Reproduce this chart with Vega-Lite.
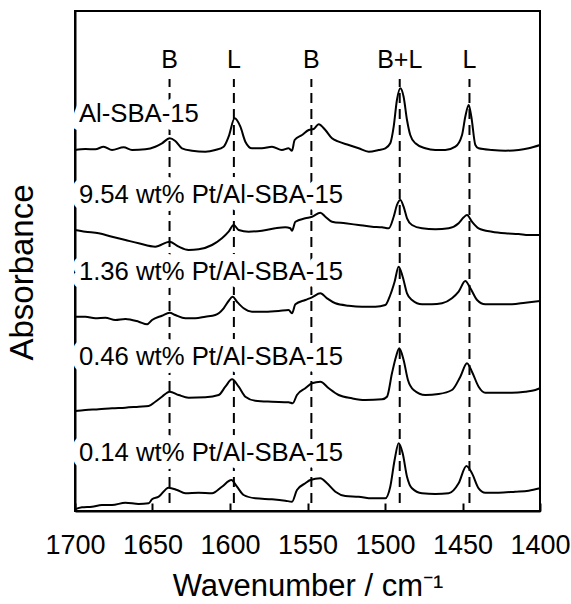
{
  "$schema": "https://vega.github.io/schema/vega-lite/v6.json",
  "width": 465,
  "height": 500,
  "autosize": "none",
  "padding": {"left": 75, "top": 11, "right": 31, "bottom": 93},
  "background": "white",
  "config": {
    "font": "Liberation Sans",
    "view": {"stroke": "black", "strokeWidth": 2},
    "axis": {"grid": false, "domainColor": "black", "domainWidth": 2, "titleFontWeight": "normal", "titleColor": "black", "labelColor": "black", "titleFont": "Liberation Sans", "labelFont": "Liberation Sans"}
  },
  "datasets": {
    "spec": [
      {"s":"a","w":1700,"a":361},{"s":"a","w":1693.3,"a":362},{"s":"a","w":1686.9,"a":361.7},{"s":"a","w":1681.5,"a":364.3},{"s":"a","w":1676.1,"a":361},{"s":"a","w":1668.6,"a":363.7},{"s":"a","w":1663.2,"a":361},{"s":"a","w":1654.6,"a":361.7},{"s":"a","w":1648.2,"a":364.3},{"s":"a","w":1643.9,"a":367.7},{"s":"a","w":1638.9,"a":372.7},{"s":"a","w":1635.3,"a":370},{"s":"a","w":1631.0,"a":362.7},{"s":"a","w":1624.5,"a":360.3},{"s":"a","w":1615.9,"a":359.3},{"s":"a","w":1609.5,"a":361},{"s":"a","w":1604.1,"a":364.3},{"s":"a","w":1600.9,"a":374.3},{"s":"a","w":1597.0,"a":392.7},{"s":"a","w":1593.3,"a":384.3},{"s":"a","w":1590.1,"a":369.3},{"s":"a","w":1585.8,"a":362.7},{"s":"a","w":1579.4,"a":362.7},{"s":"a","w":1572.9,"a":364.3},{"s":"a","w":1566.5,"a":361},{"s":"a","w":1562.2,"a":362.7},{"s":"a","w":1560.0,"a":360.3},{"s":"a","w":1558.3,"a":371},{"s":"a","w":1553.5,"a":376},{"s":"a","w":1549.2,"a":381},{"s":"a","w":1546.0,"a":382},{"s":"a","w":1542.8,"a":386.7},{"s":"a","w":1538.5,"a":381},{"s":"a","w":1534.2,"a":372.7},{"s":"a","w":1529.9,"a":369.3},{"s":"a","w":1523.4,"a":366},{"s":"a","w":1517.0,"a":362.7},{"s":"a","w":1510.5,"a":359.3},{"s":"a","w":1504.1,"a":361},{"s":"a","w":1499.8,"a":362.7},{"s":"a","w":1496.6,"a":367.7},{"s":"a","w":1494.4,"a":384.3},{"s":"a","w":1492.3,"a":411},{"s":"a","w":1490.1,"a":422.7},{"s":"a","w":1488.0,"a":414.3},{"s":"a","w":1485.8,"a":391},{"s":"a","w":1483.7,"a":376},{"s":"a","w":1480.4,"a":367.7},{"s":"a","w":1474.0,"a":362.7},{"s":"a","w":1467.5,"a":361},{"s":"a","w":1461.1,"a":361},{"s":"a","w":1454.6,"a":364.3},{"s":"a","w":1450.3,"a":376},{"s":"a","w":1448.2,"a":394.3},{"s":"a","w":1446.0,"a":406},{"s":"a","w":1444.3,"a":394.3},{"s":"a","w":1441.7,"a":366},{"s":"a","w":1439.6,"a":362.7},{"s":"a","w":1431.0,"a":361},{"s":"a","w":1422.4,"a":360.3},{"s":"a","w":1413.8,"a":361},{"s":"a","w":1407.3,"a":362.7},{"s":"a","w":1400,"a":366},

      {"s":"b","w":1700,"a":281},{"s":"b","w":1693.3,"a":279.3},{"s":"b","w":1684.7,"a":277.7},{"s":"b","w":1676.1,"a":274.3},{"s":"b","w":1667.5,"a":271},{"s":"b","w":1658.9,"a":267.7},{"s":"b","w":1648.2,"a":264.3},{"s":"b","w":1638.9,"a":269.3},{"s":"b","w":1633.1,"a":264.3},{"s":"b","w":1626.7,"a":261},{"s":"b","w":1620.2,"a":261.7},{"s":"b","w":1611.6,"a":266},{"s":"b","w":1605.2,"a":272.7},{"s":"b","w":1600.9,"a":279.3},{"s":"b","w":1597.6,"a":286},{"s":"b","w":1594.4,"a":281},{"s":"b","w":1588.0,"a":279.3},{"s":"b","w":1579.4,"a":280.3},{"s":"b","w":1570.8,"a":282.7},{"s":"b","w":1564.3,"a":283.7},{"s":"b","w":1561.1,"a":282.7},{"s":"b","w":1560.0,"a":280.3},{"s":"b","w":1557.8,"a":289.3},{"s":"b","w":1551.4,"a":292.7},{"s":"b","w":1547.1,"a":294.3},{"s":"b","w":1541.7,"a":298.3},{"s":"b","w":1538.5,"a":294.3},{"s":"b","w":1534.2,"a":289.3},{"s":"b","w":1525.6,"a":287.7},{"s":"b","w":1517.0,"a":286},{"s":"b","w":1508.4,"a":284.3},{"s":"b","w":1501.9,"a":283.7},{"s":"b","w":1497.6,"a":282.7},{"s":"b","w":1494.4,"a":294.3},{"s":"b","w":1492.3,"a":306},{"s":"b","w":1490.1,"a":311},{"s":"b","w":1488.0,"a":304.3},{"s":"b","w":1485.8,"a":292.7},{"s":"b","w":1482.6,"a":286},{"s":"b","w":1476.1,"a":282.7},{"s":"b","w":1467.5,"a":281.7},{"s":"b","w":1458.9,"a":282.7},{"s":"b","w":1452.5,"a":287.7},{"s":"b","w":1449.2,"a":293.7},{"s":"b","w":1447.1,"a":296},{"s":"b","w":1443.9,"a":289.3},{"s":"b","w":1439.6,"a":282.7},{"s":"b","w":1431.0,"a":279.3},{"s":"b","w":1422.4,"a":277.7},{"s":"b","w":1413.8,"a":277},{"s":"b","w":1407.3,"a":276},{"s":"b","w":1400,"a":276},

      {"s":"c","w":1700,"a":194.3},{"s":"c","w":1693.3,"a":194.3},{"s":"c","w":1686.9,"a":192.7},{"s":"c","w":1680.4,"a":193.3},{"s":"c","w":1674.0,"a":191},{"s":"c","w":1667.5,"a":192},{"s":"c","w":1658.9,"a":189.3},{"s":"c","w":1653.5,"a":186.7},{"s":"c","w":1650.3,"a":191},{"s":"c","w":1643.9,"a":195.3},{"s":"c","w":1638.9,"a":198.3},{"s":"c","w":1635.3,"a":196},{"s":"c","w":1628.8,"a":192.7},{"s":"c","w":1622.4,"a":192.7},{"s":"c","w":1615.9,"a":194.3},{"s":"c","w":1609.5,"a":196},{"s":"c","w":1604.1,"a":202.7},{"s":"c","w":1600.9,"a":210},{"s":"c","w":1598.3,"a":214.3},{"s":"c","w":1595.5,"a":209.3},{"s":"c","w":1591.2,"a":202.7},{"s":"c","w":1585.8,"a":199.3},{"s":"c","w":1577.2,"a":199.3},{"s":"c","w":1568.6,"a":200},{"s":"c","w":1562.2,"a":201},{"s":"c","w":1560.0,"a":197.7},{"s":"c","w":1557.8,"a":206.7},{"s":"c","w":1551.4,"a":211},{"s":"c","w":1547.1,"a":213.7},{"s":"c","w":1541.7,"a":217.7},{"s":"c","w":1537.4,"a":212.7},{"s":"c","w":1532.0,"a":207.7},{"s":"c","w":1523.4,"a":205.3},{"s":"c","w":1514.8,"a":204.3},{"s":"c","w":1506.2,"a":204.3},{"s":"c","w":1499.8,"a":206},{"s":"c","w":1496.6,"a":216},{"s":"c","w":1493.8,"a":229.3},{"s":"c","w":1491.2,"a":244.3},{"s":"c","w":1488.6,"a":234.3},{"s":"c","w":1485.8,"a":217.7},{"s":"c","w":1482.6,"a":211},{"s":"c","w":1476.1,"a":206.7},{"s":"c","w":1469.7,"a":206.7},{"s":"c","w":1463.2,"a":207.7},{"s":"c","w":1456.8,"a":212.7},{"s":"c","w":1452.5,"a":219.3},{"s":"c","w":1448.2,"a":230},{"s":"c","w":1444.9,"a":222.7},{"s":"c","w":1440.6,"a":211},{"s":"c","w":1435.3,"a":206.7},{"s":"c","w":1426.7,"a":206.7},{"s":"c","w":1418.1,"a":206.7},{"s":"c","w":1409.5,"a":208.3},{"s":"c","w":1400,"a":210},

      {"s":"d","w":1700,"a":100},{"s":"d","w":1693.3,"a":101},{"s":"d","w":1684.7,"a":101.7},{"s":"d","w":1676.1,"a":102.7},{"s":"d","w":1667.5,"a":103.3},{"s":"d","w":1658.9,"a":104.3},{"s":"d","w":1652.5,"a":105},{"s":"d","w":1648.2,"a":109.3},{"s":"d","w":1643.9,"a":114.3},{"s":"d","w":1638.9,"a":119.3},{"s":"d","w":1633.1,"a":116},{"s":"d","w":1626.7,"a":113.3},{"s":"d","w":1615.9,"a":113.7},{"s":"d","w":1607.3,"a":116},{"s":"d","w":1603.0,"a":124.3},{"s":"d","w":1598.7,"a":131.7},{"s":"d","w":1594.4,"a":124.3},{"s":"d","w":1590.1,"a":114.3},{"s":"d","w":1583.7,"a":110.3},{"s":"d","w":1572.9,"a":109.3},{"s":"d","w":1562.2,"a":108.7},{"s":"d","w":1559.6,"a":107.7},{"s":"d","w":1556.8,"a":116},{"s":"d","w":1551.4,"a":122.7},{"s":"d","w":1547.1,"a":127.7},{"s":"d","w":1541.7,"a":129.3},{"s":"d","w":1536.3,"a":122.7},{"s":"d","w":1529.9,"a":116},{"s":"d","w":1521.3,"a":112.7},{"s":"d","w":1512.7,"a":111},{"s":"d","w":1501.9,"a":111.7},{"s":"d","w":1498.7,"a":114.3},{"s":"d","w":1495.5,"a":137.7},{"s":"d","w":1492.9,"a":154.3},{"s":"d","w":1490.8,"a":162.7},{"s":"d","w":1488.0,"a":151},{"s":"d","w":1485.2,"a":131},{"s":"d","w":1481.5,"a":121},{"s":"d","w":1474.0,"a":116},{"s":"d","w":1465.4,"a":117},{"s":"d","w":1456.8,"a":121},{"s":"d","w":1451.4,"a":134.3},{"s":"d","w":1447.1,"a":147.7},{"s":"d","w":1443.9,"a":139.3},{"s":"d","w":1439.6,"a":124.3},{"s":"d","w":1435.3,"a":118.3},{"s":"d","w":1426.7,"a":118.3},{"s":"d","w":1418.1,"a":118.3},{"s":"d","w":1409.5,"a":119.3},{"s":"d","w":1403.0,"a":121},{"s":"d","w":1400,"a":122.7},

      {"s":"e","w":1700,"a":1.7},{"s":"e","w":1695.5,"a":3.7},{"s":"e","w":1689.0,"a":4.3},{"s":"e","w":1682.6,"a":6},{"s":"e","w":1676.1,"a":6},{"s":"e","w":1667.5,"a":8.3},{"s":"e","w":1658.9,"a":7},{"s":"e","w":1652.5,"a":7.7},{"s":"e","w":1650.3,"a":11.7},{"s":"e","w":1646.0,"a":14.3},{"s":"e","w":1639.6,"a":23.3},{"s":"e","w":1634.2,"a":21},{"s":"e","w":1628.8,"a":17.7},{"s":"e","w":1620.2,"a":18.3},{"s":"e","w":1611.6,"a":17.7},{"s":"e","w":1605.2,"a":24.3},{"s":"e","w":1599.1,"a":31},{"s":"e","w":1595.5,"a":24.3},{"s":"e","w":1591.2,"a":16},{"s":"e","w":1583.7,"a":12.7},{"s":"e","w":1572.9,"a":11.7},{"s":"e","w":1564.3,"a":10.3},{"s":"e","w":1560.0,"a":9.3},{"s":"e","w":1556.8,"a":21},{"s":"e","w":1551.4,"a":27.7},{"s":"e","w":1548.2,"a":31},{"s":"e","w":1541.7,"a":32.7},{"s":"e","w":1537.4,"a":27.7},{"s":"e","w":1532.0,"a":19.3},{"s":"e","w":1525.6,"a":15},{"s":"e","w":1517.0,"a":14.3},{"s":"e","w":1508.4,"a":12.7},{"s":"e","w":1499.8,"a":12.7},{"s":"e","w":1496.6,"a":24.3},{"s":"e","w":1493.8,"a":51},{"s":"e","w":1491.2,"a":67.7},{"s":"e","w":1488.6,"a":57.7},{"s":"e","w":1485.8,"a":34.3},{"s":"e","w":1482.6,"a":22.7},{"s":"e","w":1476.1,"a":17.7},{"s":"e","w":1467.5,"a":17},{"s":"e","w":1458.9,"a":17.7},{"s":"e","w":1452.5,"a":27.7},{"s":"e","w":1447.5,"a":45},{"s":"e","w":1443.9,"a":37.7},{"s":"e","w":1439.6,"a":22.7},{"s":"e","w":1435.3,"a":18.3},{"s":"e","w":1426.7,"a":18.3},{"s":"e","w":1416.0,"a":19.3},{"s":"e","w":1407.3,"a":20.3},{"s":"e","w":1400,"a":22.7}
    ],
    "labels": [
      {"name":"Al-SBA-15","a":397},
      {"name":"9.54 wt% Pt/Al-SBA-15","a":316},
      {"name":"1.36 wt% Pt/Al-SBA-15","a":239},
      {"name":"0.46 wt% Pt/Al-SBA-15","a":154},
      {"name":"0.14 wt% Pt/Al-SBA-15","a":58}
    ],
    "peaks": [
      {"w":1639,"lab":"B"},
      {"w":1597.5,"lab":"L"},
      {"w":1547.5,"lab":"B"},
      {"w":1490.5,"lab":"B+L"},
      {"w":1445.5,"lab":"L"}
    ]
  },
  "layer": [
    {
      "data": {"name": "peaks"},
      "mark": {"type": "rule", "color": "black", "strokeWidth": 2, "strokeDash": [10, 6]},
      "encoding": {
        "x": {"field": "w", "type": "quantitative", "scale": {"domain": [1400, 1700], "reverse": true, "nice": false, "zero": false},
          "axis": {"values": [1700,1650,1600,1550,1500,1450,1400], "tickSize": -8, "tickWidth": 2, "tickColor": "black", "labelFontSize": 27, "labelPadding": 29, "labelFlush": false, "labelOverlap": false, "format": "d", "title": "Wavenumber  / cm⁻¹", "titleFontSize": 31, "titlePadding": 13}},
        "y": {"datum": 8, "type": "quantitative", "scale": {"domain": [0, 500], "nice": false, "zero": false},
          "axis": {"title": "Absorbance", "labels": false, "ticks": false, "titleFontSize": 33, "titlePadding": 36, "titleY": 261}},
        "y2": {"datum": 432}
      }
    },
    {
      "data": {"name": "peaks"},
      "mark": {"type": "text", "fontSize": 25, "color": "black", "align": "center", "baseline": "middle"},
      "encoding": {
        "x": {"field": "w", "type": "quantitative"},
        "y": {"datum": 451, "type": "quantitative"},
        "text": {"field": "lab"}
      }
    },
    {
      "data": {"name": "labels"},
      "mark": {"type": "text", "fontSize": 25.7, "fill": "white", "stroke": "white", "strokeWidth": 16, "strokeJoin": "round", "align": "left", "baseline": "middle"},
      "encoding": {
        "x": {"datum": 1697.5, "type": "quantitative"},
        "y": {"field": "a", "type": "quantitative"},
        "text": {"field": "name"}
      }
    },
    {
      "data": {"name": "labels"},
      "mark": {"type": "text", "fontSize": 25.7, "color": "black", "align": "left", "baseline": "middle"},
      "encoding": {
        "x": {"datum": 1697.5, "type": "quantitative"},
        "y": {"field": "a", "type": "quantitative"},
        "text": {"field": "name"}
      }
    },
    {
      "data": {"name": "spec"},
      "mark": {"type": "line", "color": "black", "strokeWidth": 2, "interpolate": "monotone"},
      "encoding": {
        "x": {"field": "w", "type": "quantitative"},
        "y": {"field": "a", "type": "quantitative"},
        "detail": {"field": "s"}
      }
    }
  ]
}
